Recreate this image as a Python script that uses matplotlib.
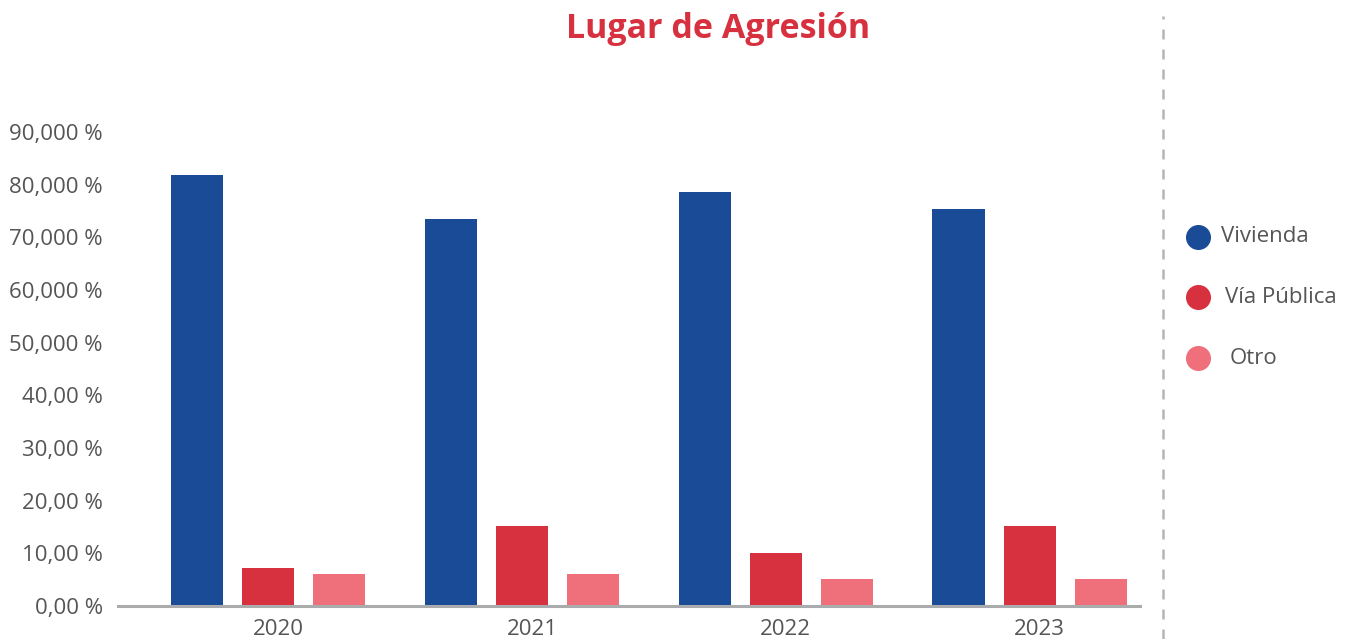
import matplotlib.pyplot as plt
from matplotlib.lines import Line2D
import numpy as np

plt.rcParams['font.family'] = ['Open Sans', 'DejaVu Sans']

years = ['2020', '2021', '2022', '2023']
series = ['Vivienda', 'Vía Pública', 'Otro']
vivienda = [81.8, 73.4, 78.6, 75.3]
via_publica = [7.2, 15.2, 10.1, 15.2]
otro = [6.1, 6.1, 5.1, 5.1]
ytick_labels = ['0,00 %', '10,00 %', '20,00 %', '30,00 %', '40,00 %',
                '50,000 %', '60,000 %', '70,000 %', '80,000 %', '90,000 %']

colors = ['#1A4B96', '#D7303F', '#EF6F7A']
text_col = '#555555'

fig = plt.figure(figsize=(13.53, 6.39), dpi=100)
ax = fig.add_axes([0.0872, 0.0516, 0.7554, 0.7418])

x = np.arange(len(years))
width = 0.205
step = 0.28
for k, (vals, c) in enumerate(zip([vivienda, via_publica, otro], colors)):
    ax.bar(x + (k - 1) * step, vals, width, color=c, zorder=2)

ax.set_xlim(-0.59, 3.435)
ax.set_ylim(0, 90)
ax.set_yticks(np.arange(0, 91, 10))
ax.set_yticklabels(ytick_labels)
ax.set_xticks(x + 0.04)
ax.set_xticklabels(years)
ax.tick_params(axis='both', length=0, labelsize=16, labelcolor=text_col)
ax.tick_params(axis='y', pad=11)
ax.tick_params(axis='x', pad=9.5)

for s in ['top', 'right', 'left']:
    ax.spines[s].set_visible(False)
ax.spines['bottom'].set_color('#A9ABAD')
ax.spines['bottom'].set_linewidth(2.2)
ax.spines['bottom'].set_zorder(3)

fig.text(0.531, 0.954, 'Lugar de Agresión', ha='center', va='center',
         fontsize=24.5, fontweight='bold', color='#D7303F')

# dashed separator
fig.add_artist(Line2D([0.8597, 0.8597], [0.0, 0.975], color='#B5B5B5',
                      lw=1.8, linestyle=(0, (4, 4))))

# legend
leg_y = [1 - 237 / 639, 1 - 297 / 639, 1 - 358 / 639]
leg_tx = [1221 / 1353, 1225 / 1353, 1230 / 1353]
for name, c, yy, tx in zip(series, colors, leg_y, leg_tx):
    fig.add_artist(Line2D([1198 / 1353], [yy], marker='o', markersize=17,
                          color=c, linestyle='none'))
    fig.text(tx, yy, name, ha='left', va='center', fontsize=16, color=text_col)

fig.savefig('out.png', dpi=100)
